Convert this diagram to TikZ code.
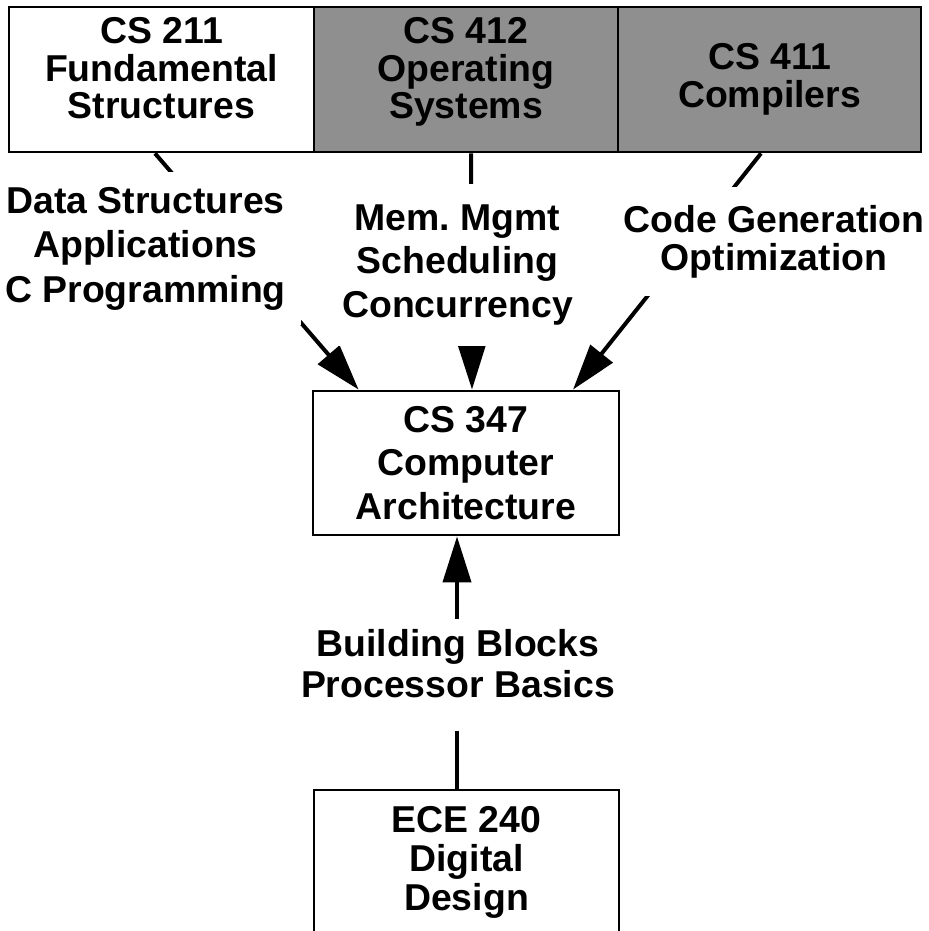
\documentclass[tikz,border=0pt]{standalone}
\usepackage{fontspec}
\setmainfont{Liberation Sans}
\usetikzlibrary{calc,arrows.meta}
\definecolor{osgray}{RGB}{143,143,143}

\begin{document}
\begin{tikzpicture}[x=0.5pt,y=-0.5pt,line width=1.4pt,
    course/.style={draw,inner sep=0pt,align=center,minimum height=72.5pt,font=\fontsize{18.7}{#1}\selectfont\bfseries},
    topic/.style={fill=white,inner xsep=7.5pt,align=center,font=\fontsize{18.7}{#1}\selectfont\bfseries},
    prereq/.style={line width=2pt,-{Triangle[length=23pt,width=14pt]}}]
              \useasboundingbox (0,0) rectangle (928,931);
              \node[course=18.75pt,minimum width=152.5pt,text depth=11.5pt](cs211)at(161.5,79.5){CS 211\\Fundamental\\Structures};
              \node[course=18.75pt,minimum width=152pt,text depth=11.5pt,fill=osgray](cs412)at(466,79.5){CS 412\\Operating\\Systems};
              \node[course=18.75pt,minimum width=151.5pt,fill=osgray](cs411)at(769.5,79.5){CS 411\\Compilers};
              \node[course=21.75pt,minimum width=153pt,minimum height=72pt](cs347)at(466,463){CS 347\\Computer\\Architecture};
              \node[course=19.5pt,minimum width=152.5pt](ece240)at(466.5,862.5){ECE 240\\Digital\\Design};
              \draw[prereq] ($(cs211.south)+(-6.5,0)$) -- ($(cs347.north west)+(47,0)$);
              \draw[prereq] ($(cs412.south)+(5,0)$) -- ($(cs347.north)+(6,0)$);
              \draw[prereq] ($(cs411.south)+(-8.5,0)$) -- ($(cs347.north)+(107,0)$);
              \draw[prereq] ($(ece240.north)+(-9.5,0)$) -- ($(cs347.south)+(-9,0)$);
              \node[topic=22.25pt,inner ysep=7.5pt](datalab)at(145.5,248.5){Data Structures\\Applications\\C Programming};
              \node[topic=21.75pt,inner ysep=10.5pt](memlab)at(457.5,265){Mem.\ Mgmt\\Scheduling\\Concurrency};
              \node[topic=19pt,inner ysep=9pt](codelab)at(774,241.5){Code Generation\\Optimization};
              \node[topic=20.5pt,inner ysep=5pt,text depth=12pt](bblab)at(458,675){Building Blocks\\Processor Basics};
            \end{tikzpicture}
\end{document}
